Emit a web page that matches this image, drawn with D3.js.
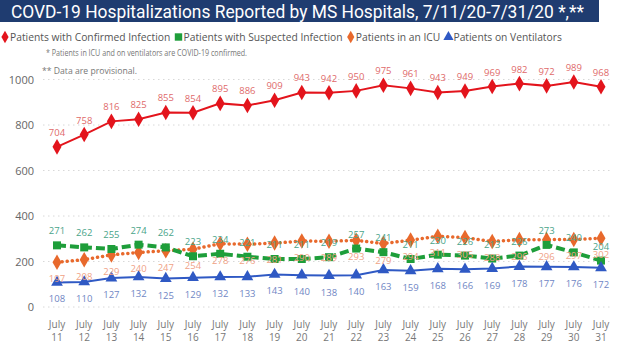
<!DOCTYPE html>
<html><head><meta charset="utf-8">
<script src="https://cdn.jsdelivr.net/npm/d3@7"></script>
<style>body{margin:0;background:#fff}svg{display:block}</style>
</head><body>
<svg id="c" width="622" height="352"></svg>
<script>
const days = ["11","12","13","14","15","16","17","18","19","20","21","22","23","24","25","26","27","28","29","30","31"];
const confirmed = [704,758,816,825,855,854,895,886,909,943,942,950,975,961,943,949,969,982,972,989,968];
const suspected = [271,262,255,274,262,223,234,221,211,211,219,257,241,211,230,226,213,226,273,240,204];
const icu = [197,208,229,240,247,254,278,276,281,290,289,293,279,294,311,305,288,296,296,297,302];
const vent = [108,110,127,132,125,129,132,133,143,140,138,140,163,159,168,166,169,178,177,176,172];
const yTicks = [0,200,400,600,800,1000];

const svg = d3.select("#c");
const x = d3.scalePoint().domain(days).range([57,601]);
const y = d3.scaleLinear().domain([0,1000]).range([307,79.5]);
const FONT = "'Open Sans', sans-serif";

// title
svg.append("rect").attr("x",0).attr("y",0).attr("width",599).attr("height",22).attr("fill","#1f3c70");
svg.append("text").attr("x",11).attr("y",17.5).attr("fill","#fff")
  .style("font-family","Roboto, 'DejaVu Sans', sans-serif").style("font-size","18px")
  .attr("textLength",573).attr("lengthAdjust","spacingAndGlyphs")
  .text("COVD-19 Hospitalizations Reported by MS Hospitals, 7/11/20-7/31/20 *,**");

const series = [
  {name:"Patients with Confirmed Infection", data:confirmed, color:"#e3141c", lab:"#e06a6a", shape:d3.symbolDiamond, dash:null, w:2, pos:-1},
  {name:"Patients with Suspected Infection", data:suspected, color:"#1e9e3a", lab:"#4aa489", shape:d3.symbolSquare, dash:"9,4", w:4, pos:-1},
  {name:"Patients in an ICU", data:icu, color:"#e8692c", lab:"#f0a286", shape:d3.symbolDiamond, dash:"0.1,5", w:3.5, pos:1},
  {name:"Patients on Ventilators", data:vent, color:"#2f59c4", lab:"#6f86c4", shape:d3.symbolTriangle, dash:null, w:2, pos:1}
];

// legend: fit text naturally into span 1..562
const lg = svg.append("g");
const base = 11;
const texts = series.map(s => lg.append("text").attr("y",41).attr("fill","#555")
    .style("font-family",FONT).style("font-size",base+"px").text(s.name));
const widths = texts.map(t => t.node().getComputedTextLength());
const mk = 9, gap = 4, start = 1, end = 562;
const k = (end - start - series.length*mk - (series.length-1)*gap) / d3.sum(widths);
const fs = base * k;
let cx = start;
series.forEach((s,i)=>{
  lg.append("path").attr("d",d3.symbol().type(s.shape).size(s.shape===d3.symbolSquare?55:45)())
    .attr("transform",`translate(${cx+4},37)`).attr("fill",s.color);
  texts[i].style("font-size",fs+"px").attr("x",cx+mk);
  cx += mk + widths[i]*k + gap;
});

svg.append("text").attr("x",46).attr("y",56).attr("fill","#777")
  .style("font-family",FONT).style("font-size","8.5px")
  .attr("textLength",201).attr("lengthAdjust","spacingAndGlyphs")
  .text("* Patients in ICU and on ventilators are COVID-19 confirmed.");
svg.append("text").attr("x",42).attr("y",74).attr("fill","#777")
  .style("font-family",FONT).style("font-size","8.5px")
  .attr("textLength",95).attr("lengthAdjust","spacingAndGlyphs")
  .text("** Data are provisional.");

// grid + y labels
const g = svg.append("g");
yTicks.forEach(t=>{
  g.append("line").attr("x1",43).attr("x2",612).attr("y1",y(t)).attr("y2",y(t))
    .attr("stroke","#d8d8d8").attr("stroke-width",1).attr("stroke-dasharray","1.5,3.5");
  g.append("text").attr("x",34).attr("y",y(t)+4).attr("text-anchor","end").attr("fill","#666")
    .style("font-family",FONT).style("font-size","11px").text(t);
});

// x labels (two separate lines)
days.forEach(d=>{
  g.append("text").attr("x",x(d)).attr("y",328).attr("text-anchor","middle").attr("fill","#777")
    .style("font-family",FONT).style("font-size","10px").text("July");
  g.append("text").attr("x",x(d)).attr("y",341).attr("text-anchor","middle").attr("fill","#777")
    .style("font-family",FONT).style("font-size","10px").text(d);
});

// lines
const order = [series[2], series[1], series[3], series[0]];
order.forEach(s=>{
  const line = d3.line().x((v,i)=>x(days[i])).y(v=>y(v));
  svg.append("path").attr("d",line(s.data)).attr("fill","none").attr("stroke",s.color)
    .attr("stroke-width",s.w).attr("stroke-dasharray",s.dash)
    .attr("stroke-linecap", s.name.includes("ICU")?"round":"butt");
  const sz = s.shape===d3.symbolSquare?64:(s.shape===d3.symbolTriangle?60:70);
  svg.append("g").selectAll("path").data(s.data).join("path")
    .attr("d",d3.symbol().type(s.shape).size(sz)())
    .attr("transform",(v,i)=>`translate(${x(days[i])},${y(v)})`).attr("fill",s.color);
});
// data labels
series.forEach(s=>{
  svg.append("g").selectAll("text").data(s.data).join("text")
    .attr("x",(v,i)=>x(days[i])).attr("y",v=>y(v)+(s.pos<0?-11:20))
    .attr("text-anchor","middle").attr("fill",s.lab)
    .style("font-family",FONT).style("font-size","9.5px")
    .text(v=>v);
});
</script>
</body></html>
